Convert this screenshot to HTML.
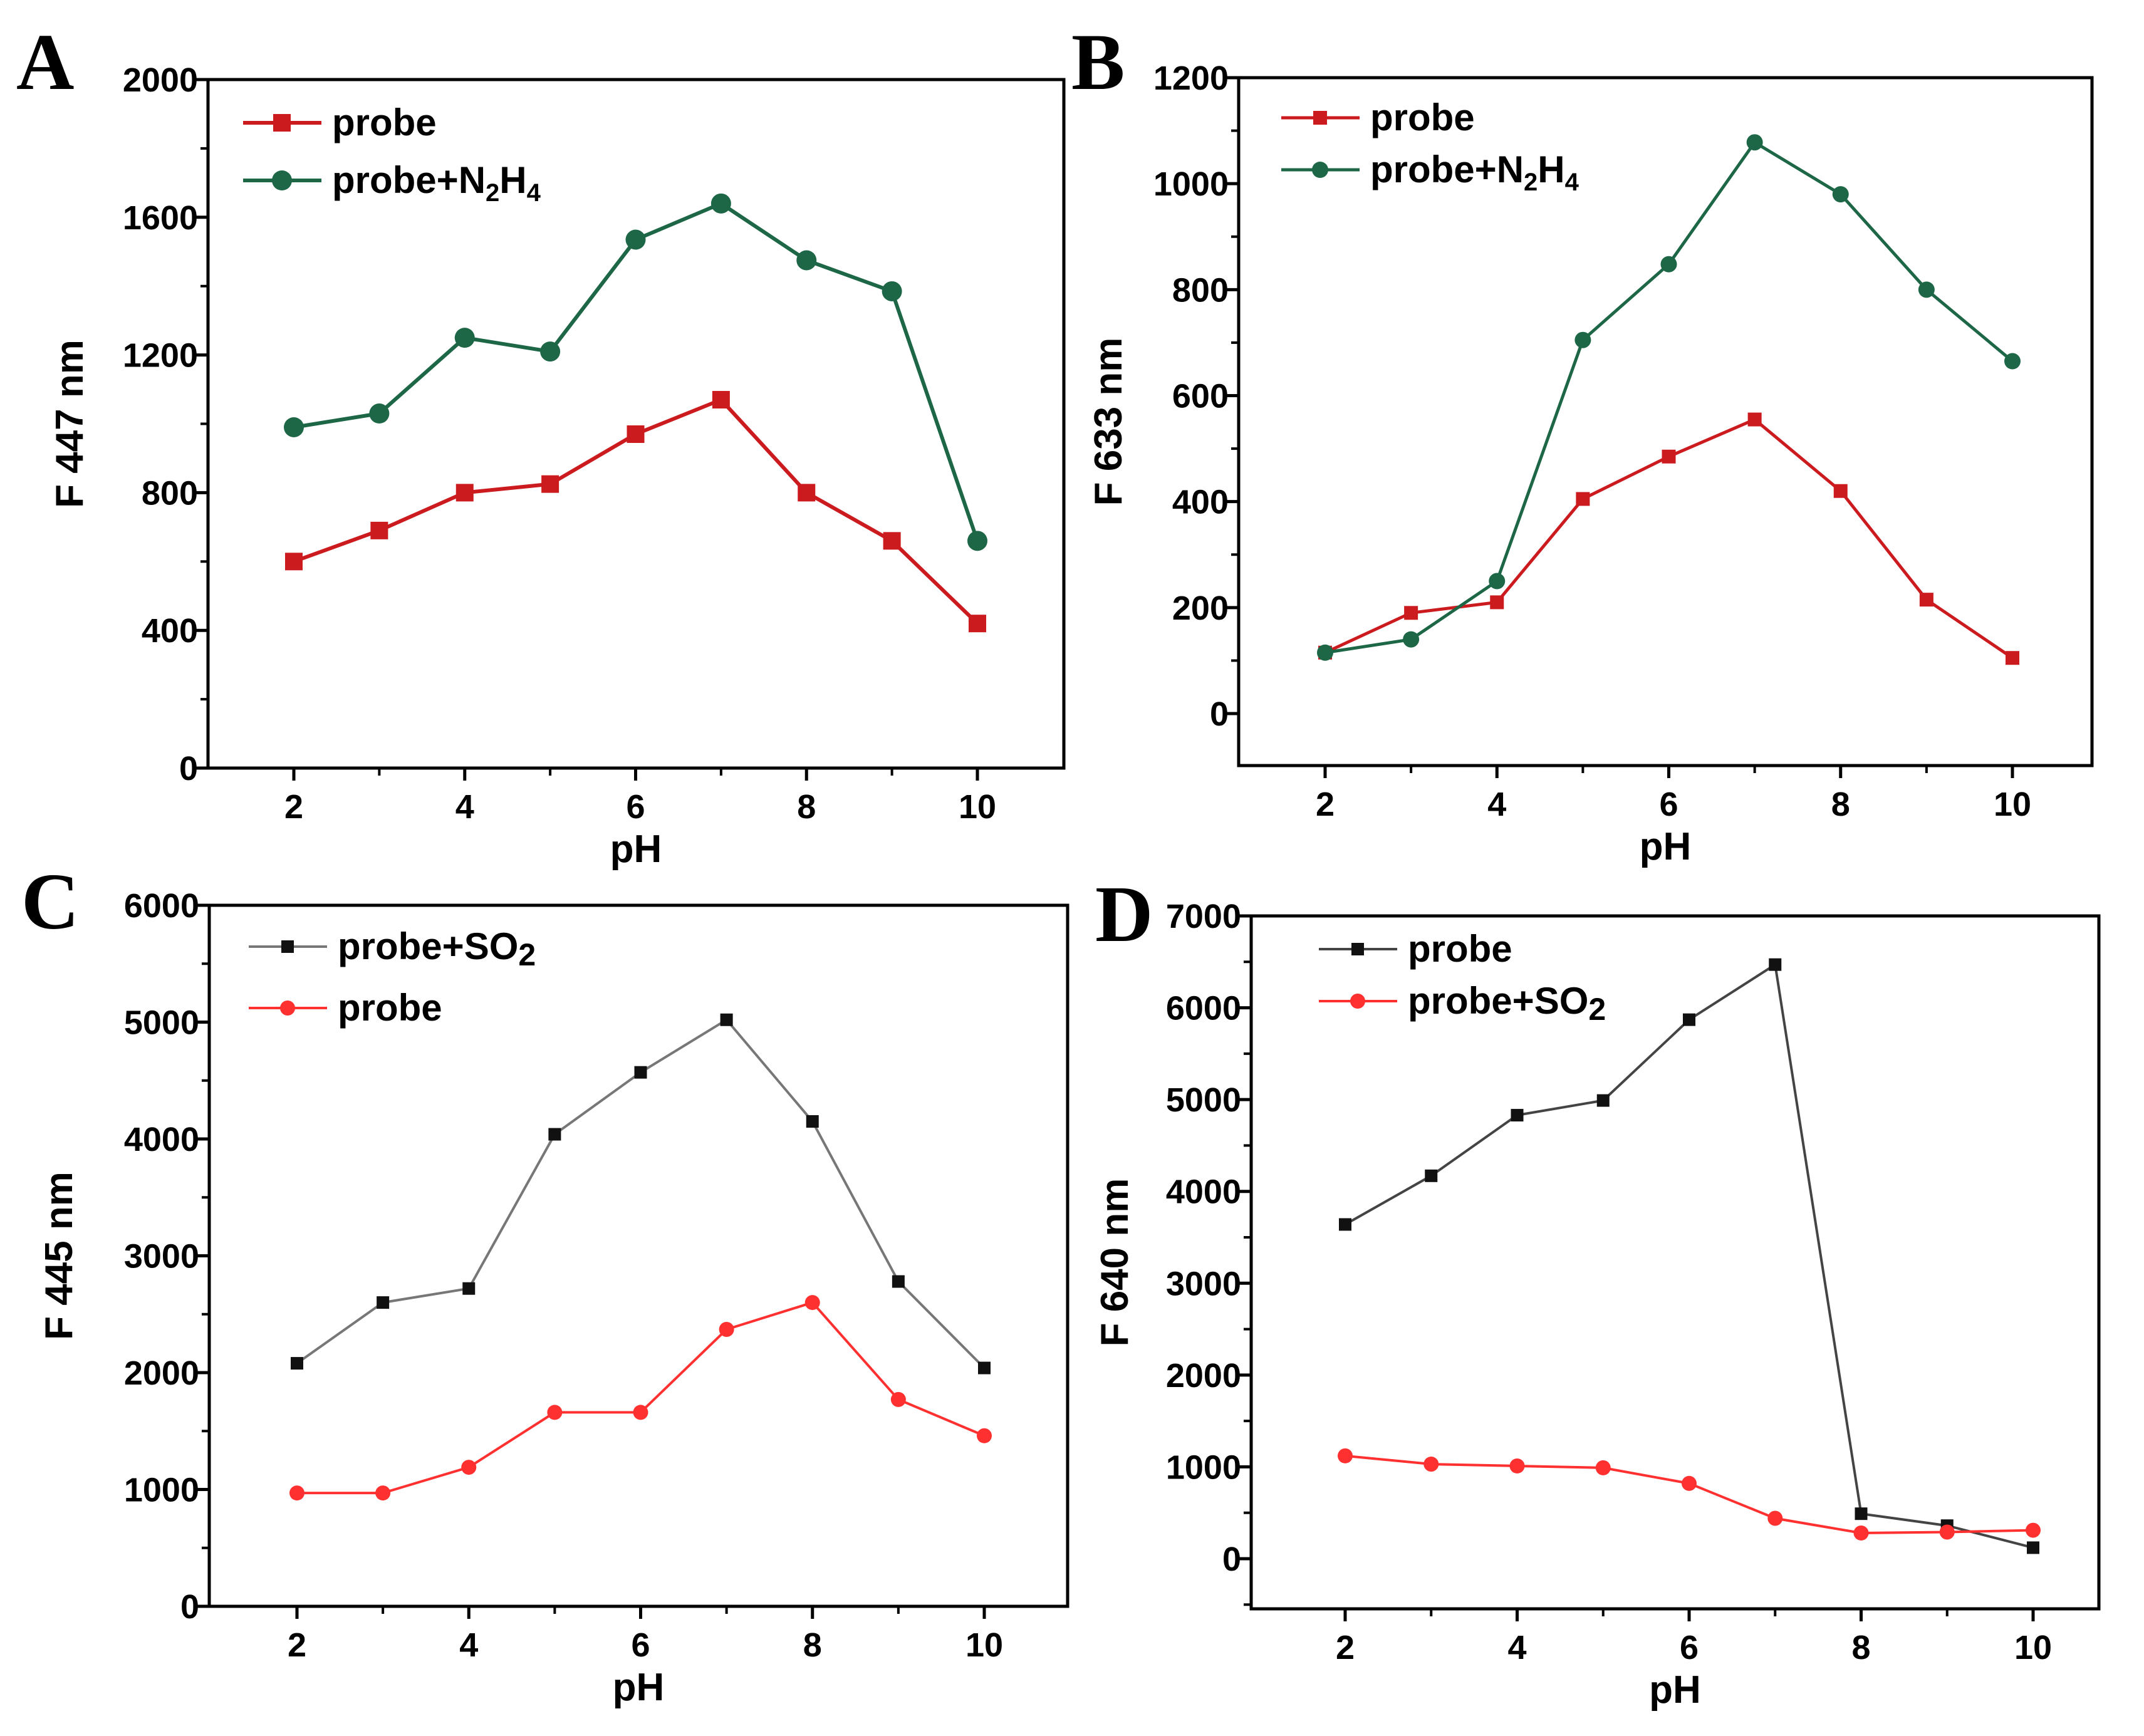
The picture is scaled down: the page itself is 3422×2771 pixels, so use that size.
<!DOCTYPE html>
<html><head><meta charset="utf-8"><style>
body{margin:0;background:#fff}
svg{display:block;font-family:"Liberation Sans",Arial,sans-serif}
</style></head><body>
<svg id="fig" width="3422" height="2771" viewBox="0 0 3422 2771" xmlns="http://www.w3.org/2000/svg"></svg>
<script>
const phValues=[2,3,4,5,6,7,8,9,10];
const xTickLabels=[2,4,6,8,10];
const aProbe=[600,690,800,825,970,1070,800,660,420];
const aProbeN2H4=[990,1030,1250,1210,1535,1640,1475,1385,660];
const aYTicks=[0,400,800,1200,1600,2000];
const bProbe=[115,190,210,405,485,555,420,215,105];
const bProbeN2H4=[115,140,250,705,848,1078,980,800,665];
const bYTicks=[0,200,400,600,800,1000,1200];
const cProbeSO2=[2080,2600,2720,4040,4570,5020,4150,2780,2040];
const cProbe=[970,970,1190,1660,1660,2370,2600,1770,1460];
const cYTicks=[0,1000,2000,3000,4000,5000,6000];
const dProbe=[3640,4170,4830,4990,5870,6470,490,360,120];
const dProbeSO2=[1120,1030,1010,990,820,440,280,290,310];
const dYTicks=[0,1000,2000,3000,4000,5000,6000,7000];

const NS="http://www.w3.org/2000/svg";
const svg=document.getElementById('fig');
function mk(tag,attrs,parent){const e=document.createElementNS(NS,tag);for(const k in attrs)e.setAttribute(k,attrs[k]);(parent||svg).appendChild(e);return e;}

function panel(p){
  const g=mk('g',{});
  
  
  const X=v=>p.x2+(v-2)*(p.x10-p.x2)/8;
  const Y=v=>p.y0+(v-0)*(p.yTop-p.y0)/(p.yTopVal);
  const box=mk('rect',{x:p.L,y:p.T,width:p.R-p.L,height:p.B-p.T,fill:'none',stroke:'#000','stroke-width':5},g);
  
  
  const step=p.yTicks[1]-p.yTicks[0];
  for(let i=0;i<p.yTicks.length;i++){
    const v=p.yTicks[i];
    mk('line',{x1:p.L-20,x2:p.L,y1:Y(v),y2:Y(v),stroke:'#000','stroke-width':5},g);
    const t=mk('text',{x:p.L-16,y:Y(v)+19,'text-anchor':'end','font-size':54,'font-weight':'bold'},g);
    t.textContent=v;
    
    
    const mv=v+step/2;
    if(i<p.yTicks.length-1) mk('line',{x1:p.L-12,x2:p.L,y1:Y(mv),y2:Y(mv),stroke:'#000','stroke-width':4},g);
    const lv=v-step/2;
    if(i===0 && Y(lv)<p.B-5) mk('line',{x1:p.L-12,x2:p.L,y1:Y(lv),y2:Y(lv),stroke:'#000','stroke-width':4},g);
  }
  phValues.forEach(v=>{
    const major=v%2===0;
    mk('line',{x1:X(v),x2:X(v),y1:p.B,y2:p.B+(major?20:12),stroke:'#000','stroke-width':major?5:4},g);
  });
  xTickLabels.forEach(v=>{
    const t=mk('text',{x:X(v),y:p.B+80,'text-anchor':'middle','font-size':54,'font-weight':'bold'},g);
    t.textContent=v;
    
    
  });
  const xt=mk('text',{x:(p.L+p.R)/2,y:p.B+150,'text-anchor':'middle','font-size':62,'font-weight':'bold'},g);
  xt.textContent='pH';
  
  
  const yt=mk('text',{x:p.ytx,y:(p.T+p.B)/2,'text-anchor':'middle','font-size':62,'font-weight':'bold',transform:`rotate(-90 ${p.ytx} ${(p.T+p.B)/2})`},g);
  yt.textContent=p.ytitle;
  
  
  const lt=mk('text',{x:p.letX,y:p.letY,'font-size':128,'font-weight':'bold','font-family':'"Liberation Serif",serif'},g);
  lt.textContent=p.id;
  
  
  p.series.forEach((s,si)=>{
    const sg=mk('g',{},g);
    
    
    mk('polyline',{points:s.data.map((v,i)=>X(phValues[i])+','+Y(v)).join(' '),fill:'none',stroke:s.line,'stroke-width':p.lw},sg);
    s.data.forEach((v,i)=>drawMarker(sg,s,X(phValues[i]),Y(v),p.ms));
    const ly=p.legY+si*p.legGap;
    const lg=mk('g',{},g);
    
    
    mk('line',{x1:p.legX,x2:p.legX+125,y1:ly,y2:ly,stroke:s.line,'stroke-width':p.lw},lg);
    drawMarker(lg,s,p.legX+62,ly,p.ms);
    const tx=mk('text',{x:p.legX+142,y:ly+20,'font-size':60,'font-weight':'bold'},lg);
    tx.innerHTML=s.label;
  });
}
function drawMarker(g,s,x,y,ms){
  let m;
  if(s.shape==='sq') m=mk('rect',{x:x-ms/2,y:y-ms/2,width:ms,height:ms,fill:s.mark},g);
  else m=mk('circle',{cx:x,cy:y,r:ms/2+2,fill:s.mark},g);
  
  
}
const red1='#cc1b1f',green='#1d6747',gray='#777',blk='#111',red2='#ff3030';
const n2h4='probe+N<tspan font-size="40" dy="13">2</tspan><tspan dy="-13">H</tspan><tspan font-size="40" dy="13">4</tspan>';
const so2='probe+SO<tspan font-size="50" dy="10">2</tspan>';
panel({id:'A',L:332,R:1698,T:127,B:1226,x2:469,x10:1560,y0:1226,yTop:127,yTopVal:2000,yTicks:aYTicks,lw:6,ms:28,
  ytitle:'F 447 nm',ytx:132,letX:26,letY:142,legX:388,legY:196,legGap:92,
  series:[{key:'probe',data:aProbe,line:red1,mark:red1,shape:'sq',label:'probe'},
          {key:'probe-n2h4',data:aProbeN2H4,line:green,mark:green,shape:'ci',label:n2h4}]});
panel({id:'B',L:1977,R:3339,T:124,B:1222,x2:2115,x10:3212,y0:1139,yTop:124,yTopVal:1200,yTicks:bYTicks,lw:5,ms:22,
  ytitle:'F 633 nm',ytx:1790,letX:1710,letY:142,legX:2045,legY:188,legGap:83,
  series:[{key:'probe',data:bProbe,line:red1,mark:red1,shape:'sq',label:'probe'},
          {key:'probe-n2h4',data:bProbeN2H4,line:green,mark:green,shape:'ci',label:n2h4}]});
panel({id:'C',L:334,R:1704,T:1445,B:2564,x2:474,x10:1571,y0:2564,yTop:1445,yTopVal:6000,yTicks:cYTicks,lw:4,ms:20,
  ytitle:'F 445 nm',ytx:115,letX:34,letY:1482,legX:397,legY:1511,legGap:98,
  series:[{key:'probe-so2',data:cProbeSO2,line:gray,mark:blk,shape:'sq',label:so2},
          {key:'probe',data:cProbe,line:red2,mark:red2,shape:'ci',label:'probe'}]});
panel({id:'D',L:1997,R:3350,T:1462,B:2568,x2:2147,x10:3245,y0:2488,yTop:1462,yTopVal:7000,yTicks:dYTicks,lw:4,ms:20,
  ytitle:'F 640 nm',ytx:1800,letX:1748,letY:1502,legX:2105,legY:1515,legGap:83,
  series:[{key:'probe',data:dProbe,line:'#444',mark:blk,shape:'sq',label:'probe'},
          {key:'probe-so2',data:dProbeSO2,line:red2,mark:red2,shape:'ci',label:so2}]});
</script>
</body></html>
